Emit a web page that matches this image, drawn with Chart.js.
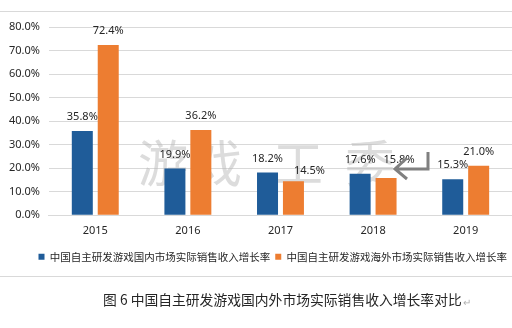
<!DOCTYPE html>
<html>
<head>
<meta charset="utf-8">
<script src="https://cdn.jsdelivr.net/npm/chart.js@4/dist/chart.umd.min.js"></script>
<style>
  html, body { margin: 0; padding: 0; background: #ffffff; }
  #wrap { width: 512px; height: 328px; position: relative; }
</style>
</head>
<body>
<div id="wrap"><canvas id="c" width="512" height="328"></canvas></div>
<script>
// Years on the category axis
const years = ['2015', '2016', '2017', '2018', '2019'];
// Growth rate of actual sales revenue (%), domestic market
const domesticGrowth = [35.8, 19.9, 18.2, 17.6, 15.3];
// Growth rate of actual sales revenue (%), overseas market
const overseasGrowth = [72.4, 36.2, 14.5, 15.8, 21.0];
// Series names
const seriesNames = ['中国自主研发游戏国内市场实际销售收入增长率', '中国自主研发游戏海外市场实际销售收入增长率'];
// Y axis range and step
const yMin = 0, yMax = 80, yStep = 10;
const caption = '图 6 中国自主研发游戏国内外市场实际销售收入增长率对比';
const watermark = ['游', '戏', '工', '委'];

const FONT = '"Noto Sans", "Noto Sans CJK SC", sans-serif';
const CJK = '"Noto Sans CJK SC", "Noto Sans", sans-serif';

// Decorations: frame lines, watermark, caption, return arrow
const decor = {
  id: 'decor',
  beforeDatasetsDraw(chart) {
    const ctx = chart.ctx;
    ctx.save();
    ctx.fillStyle = 'rgba(185,185,185,0.5)';
    ctx.font = '50px ' + CJK;
    ctx.textBaseline = 'middle';
    ctx.textAlign = 'left';
    const xs = [138, 192, 273, 345];
    watermark.forEach((ch, i) => ctx.fillText(ch, xs[i], 163));
    ctx.restore();
  },
  afterDraw(chart) {
    const ctx = chart.ctx;
    ctx.save();
    ctx.strokeStyle = '#d9d9d9';
    ctx.lineWidth = 1;
    ctx.beginPath();
    ctx.moveTo(0, 11.5); ctx.lineTo(512, 11.5);
    ctx.moveTo(0, 276.5); ctx.lineTo(512, 276.5);
    ctx.stroke();

    ctx.fillStyle = '#262626';
    ctx.font = '13.8px ' + CJK;
    ctx.textBaseline = 'middle';
    ctx.textAlign = 'left';
    ctx.fillText(caption, 103, 300);
    const w = ctx.measureText(caption).width;
    ctx.fillStyle = '#b0b0b0';
    ctx.font = '10px ' + CJK;
    ctx.fillText('↵', 103 + w + 1, 302);

    // gray return arrow
    ctx.strokeStyle = '#808080';
    ctx.lineWidth = 3;
    ctx.lineJoin = 'miter';
    ctx.beginPath();
    ctx.moveTo(428, 152); ctx.lineTo(428, 169); ctx.lineTo(396, 169);
    ctx.moveTo(407, 158); ctx.lineTo(395, 169); ctx.lineTo(407, 179);
    ctx.stroke();
    ctx.restore();
  }
};

// Value labels above each bar
const valueLabels = {
  id: 'valueLabels',
  afterDatasetsDraw(chart, args, opts) {
    const ctx = chart.ctx;
    ctx.save();
    ctx.font = '11px ' + FONT;
    ctx.fillStyle = '#262626';
    ctx.textAlign = 'center';
    ctx.textBaseline = 'middle';
    chart.data.datasets.forEach((ds, di) => {
      chart.getDatasetMeta(di).data.forEach((el, i) => {
        const nudge = (opts.nudge[di] && opts.nudge[di][i]) || [0, 0];
        ctx.fillText(ds.data[i].toFixed(1) + '%', el.x + nudge[0], el.y - 14 + nudge[1]);
      });
    });
    ctx.restore();
  }
};

new Chart(document.getElementById('c'), {
  type: 'bar',
  data: {
    labels: years,
    datasets: [
      { label: seriesNames[0], data: domesticGrowth, backgroundColor: '#1f5c99' },
      { label: seriesNames[1], data: overseasGrowth, backgroundColor: '#ed7d31' }
    ]
  },
  options: {
    responsive: false,
    animation: false,
    devicePixelRatio: 1,
    categoryPercentage: 0.56,
    barPercentage: 0.81,
    layout: { padding: { left: 0, right: 0, top: 27, bottom: 56 } },
    scales: {
      y: {
        min: yMin, max: yMax,
        ticks: {
          stepSize: yStep,
          padding: 9,
          color: '#262626',
          font: { family: FONT, size: 11 },
          callback: v => v.toFixed(1) + '%'
        },
        grid: { color: '#d9d9d9', drawTicks: false },
        border: { display: false }
      },
      x: {
        ticks: { color: '#262626', font: { family: FONT, size: 11 }, padding: 9 },
        grid: { display: false, drawTicks: false },
        border: { color: '#d9d9d9' }
      }
    },
    plugins: {
      legend: {
        position: 'bottom',
        align: 'end',
        labels: {
          boxWidth: 6, boxHeight: 6,
          padding: 5,
          color: '#262626',
          font: { family: CJK, size: 10.5 }
        }
      },
      tooltip: { enabled: false },
      valueLabels: { nudge: { 1: { 2: [16, 4], 3: [13, -4] } } }
    }
  },
  plugins: [decor, valueLabels]
});
</script>
</body>
</html>
